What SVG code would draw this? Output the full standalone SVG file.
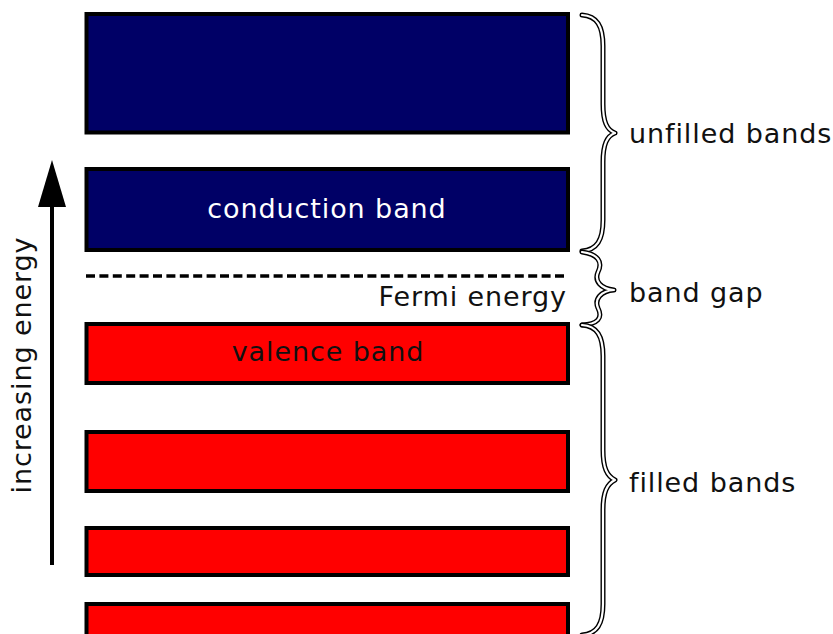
<svg xmlns="http://www.w3.org/2000/svg" width="833" height="634" viewBox="0 0 833 634">
<style>
.band{stroke:#000;stroke-width:4}
.cb{fill:#000066}
.vb{fill:#ff0000}
.t{font-family:"DejaVu Sans",Verdana,sans-serif;font-size:27px;fill:#111;letter-spacing:0.9px}
.bo{fill:none;stroke:#000;stroke-width:5;stroke-linejoin:round;stroke-linecap:round}
.bi{fill:none;stroke:#fff;stroke-width:2.2;stroke-linejoin:round;stroke-linecap:round}
</style>
<defs>
<path id="b1" d="M582,15 C597,16 603,26 603,46 L603,104 C603,122 607,130 615,133 C607,136 603,144 603,162 L603,220 C603,240 597,250 582,251"/>
<path id="b2" d="M582,252 C598,254 603,262 598,272 C594,281 601,289 614,290 C601,291 594,299 598,308 C603,318 598,324 582,325"/>
<path id="b3" d="M582,325 C597,326 603,336 603,356 L603,450 C603,468 607,476 615,480 C607,484 603,492 603,510 L603,604 C603,624 597,634 582,635"/>
</defs>
<rect width="833" height="634" fill="#fff"/>
<g id="band1"><rect class="band cb" x="86.5" y="14" width="481.5" height="118.5"/></g>
<g id="conduction"><rect class="band cb" x="86.5" y="169" width="481.5" height="81"/>
<text class="t" x="327" y="218" text-anchor="middle" style="fill:#fff">conduction band</text></g>
<g id="fermi"><line x1="86" y1="276" x2="568" y2="276" stroke="#000" stroke-width="3.5" stroke-dasharray="9,4.4"/>
<text class="t" x="567" y="306" text-anchor="end">Fermi energy</text></g>
<g id="valence"><rect class="band vb" x="86.5" y="324" width="481.5" height="59"/>
<text class="t" x="328" y="361" text-anchor="middle">valence band</text></g>
<g id="band4"><rect class="band vb" x="86.5" y="432" width="481.5" height="59"/></g>
<g id="band5"><rect class="band vb" x="86.5" y="528" width="481.5" height="47"/></g>
<g id="band6"><rect class="band vb" x="86.5" y="604" width="481.5" height="45"/></g>
<g id="axis"><line x1="52" y1="565" x2="52" y2="200" stroke="#000" stroke-width="4"/>
<polygon points="52,160 38,207 66,207" fill="#000"/>
<text class="t" transform="translate(31,365) rotate(-90)" text-anchor="middle">increasing energy</text></g>
<g id="braces">
<use href="#b1" class="bo"/><use href="#b1" class="bi"/>
<use href="#b2" class="bo"/><use href="#b2" class="bi"/>
<use href="#b3" class="bo"/><use href="#b3" class="bi"/>
</g>
<g id="labels">
<text class="t" x="629" y="143">unfilled bands</text>
<text class="t" x="629" y="302">band gap</text>
<text class="t" x="629" y="492">filled bands</text>
</g>
</svg>
